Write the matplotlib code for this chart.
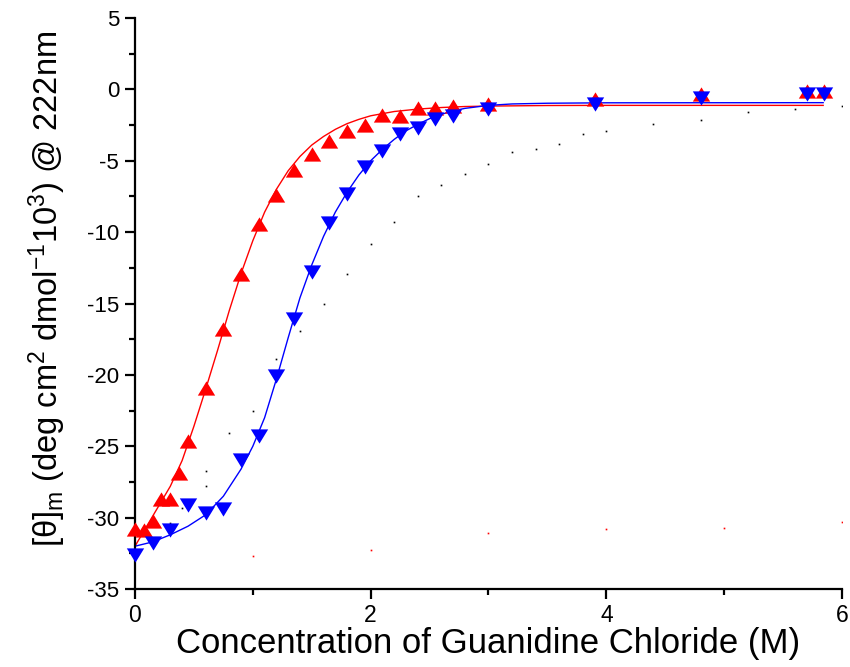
import numpy as np
import matplotlib
matplotlib.use("Agg")
import matplotlib.pyplot as plt
from matplotlib.ticker import MultipleLocator

plt.rcParams['font.family'] = ['Liberation Sans', 'DejaVu Sans']
plt.rcParams['mathtext.fontset'] = 'custom'
plt.rcParams['mathtext.rm'] = 'Liberation Sans'
plt.rcParams['mathtext.it'] = 'Liberation Sans:italic'
plt.rcParams['axes.unicode_minus'] = False

# ---- data ----
red_x = [0.0, 0.075, 0.15, 0.225, 0.3, 0.375, 0.45, 0.6, 0.75, 0.9, 1.05, 1.2, 1.35,
         1.5, 1.65, 1.8, 1.95, 2.1, 2.25, 2.4, 2.55, 2.7, 3.0, 3.9, 4.8, 5.7, 5.85]
red_y = [-30.8, -30.9, -30.2, -28.7, -28.7, -26.9, -24.6, -20.9, -16.8, -12.9, -9.4,
         -7.4, -5.65, -4.5, -3.6, -2.9, -2.5, -1.8, -1.85, -1.3, -1.3, -1.15, -1.0,
         -0.7, -0.35, -0.12, -0.12]

blue_x = [0.0, 0.15, 0.3, 0.45, 0.6, 0.75, 0.9, 1.05, 1.2, 1.35, 1.5, 1.65, 1.8, 1.95,
          2.1, 2.25, 2.4, 2.55, 2.7, 3.0, 3.9, 4.8, 5.7, 5.85]
blue_y = [-32.6, -31.8, -30.9, -29.1, -29.7, -29.4, -25.95, -24.3, -20.1, -16.1, -12.8,
          -9.35, -7.35, -5.45, -4.3, -3.15, -2.7, -2.05, -1.85, -1.4, -1.05, -0.58,
          -0.35, -0.35]

red_fit_x = [0.0, 0.1, 0.2, 0.3, 0.4, 0.5, 0.6, 0.7, 0.8, 0.9, 1.0, 1.1, 1.2, 1.3, 1.4,
             1.5, 1.6, 1.7, 1.8, 1.9, 2.0, 2.2, 2.4, 2.6, 2.8, 3.0, 3.5, 4.0, 5.84]
red_fit_y = [-32.0, -30.6, -29.2, -27.8, -26.0, -23.6, -21.0, -18.3, -15.5, -12.9,
             -10.6, -8.6, -7.0, -5.7, -4.7, -3.9, -3.3, -2.8, -2.4, -2.1, -1.85, -1.55,
             -1.38, -1.27, -1.2, -1.17, -1.13, -1.12, -1.12]

blue_fit_x = [0.0, 0.15, 0.3, 0.45, 0.6, 0.75, 0.9, 1.0, 1.1, 1.2, 1.3, 1.4, 1.5, 1.6,
              1.7, 1.8, 1.9, 2.0, 2.1, 2.2, 2.3, 2.4, 2.5, 2.6, 2.7, 2.8, 3.0, 3.2,
              3.5, 4.0, 5.84]
blue_fit_y = [-32.0, -31.7, -31.2, -30.6, -29.8, -28.5, -26.6, -25.0, -23.0, -20.3,
              -17.4, -14.6, -12.3, -10.3, -8.6, -7.2, -6.0, -5.0, -4.2, -3.5, -2.9,
              -2.45, -2.05, -1.75, -1.5, -1.33, -1.12, -1.02, -0.97, -0.94, -0.93]

black_x = [0.3, 0.4, 0.6, 0.6, 0.8, 1.0, 1.2, 1.4, 1.6, 1.8, 2.0, 2.2, 2.4, 2.6, 2.8,
           3.0, 3.2, 3.4, 3.6, 3.8, 4.0, 4.4, 4.8, 5.2, 5.6, 6.0]
black_y = [-30.4, -29.3, -27.8, -26.7, -24.1, -22.5, -18.9, -16.9, -15.0, -12.9,
           -10.8, -9.3, -7.5, -6.7, -5.9, -5.25, -4.4, -4.2, -3.8, -3.15, -2.9, -2.45,
           -2.15, -1.59, -1.35, -1.17]

reddot_x = [1.0, 2.0, 3.0, 4.0, 5.0, 6.0]
reddot_y = [-32.7, -32.3, -31.1, -30.8, -30.7, -30.3]

x_ticks = [0, 2, 4, 6]
y_ticks = [5, 0, -5, -10, -15, -20, -25, -30, -35]

# ---- figure ----
fig = plt.figure(figsize=(8.5, 6.67), dpi=100)
ax = fig.add_axes([0.1588, 0.1169, 0.8318, 0.8561])

up_tri = [(-1, -0.82), (1, -0.82), (0, 0.82)]
down_tri = [(-1, 0.82), (1, 0.82), (0, -0.82)]

ax.plot(black_x, black_y, linestyle='none', marker='s', ms=1.2, color='black', mew=0)
ax.plot(reddot_x, reddot_y, linestyle='none', marker='s', ms=1.2, color='red', mew=0)
ax.plot(red_fit_x, red_fit_y, color='#ff0000', lw=1.0, zorder=2)
ax.plot(blue_fit_x, blue_fit_y, color='#0000ff', lw=1.0, zorder=2)
ax.plot(red_x, red_y, linestyle='none', marker=up_tri, ms=12.5, color='#ff0000',
        mec='#ff0000', mew=0, zorder=3, clip_on=False)
ax.plot(blue_x, blue_y, linestyle='none', marker=down_tri, ms=12.5, color='#0000ff',
        mec='#0000ff', mew=0, zorder=4, clip_on=False)

ax.set_xlim(0, 6)
ax.set_ylim(-35, 5)
ax.set_xticks(x_ticks)
ax.set_yticks(y_ticks)
ax.xaxis.set_minor_locator(MultipleLocator(1))
ax.yaxis.set_minor_locator(MultipleLocator(2.5))

for s in ['top', 'right']:
    ax.spines[s].set_visible(False)
for s in ['left', 'bottom']:
    ax.spines[s].set_linewidth(1.6)

ax.tick_params(axis='both', which='major', direction='out', length=7.5, width=1.6)
ax.tick_params(axis='both', which='minor', direction='out', length=4.5, width=1.6)
ax.tick_params(axis='y', which='major', labelsize=16, pad=4)
ax.tick_params(axis='x', which='major', labelsize=16.5, pad=3)

ax.set_xlabel('Concentration of Guanidine Chloride (M)', fontsize=25, labelpad=0)
ax.set_ylabel(r'[θ]$_{\mathrm{m}}$ (deg cm$^{\mathrm{2}}$ dmol$^{\mathrm{-1}}$10$^{\mathrm{3}}$) @ 222nm',
              fontsize=23.5)
ax.yaxis.set_label_coords(-0.095, 0.525)

fig.savefig('out.png', dpi=100)
